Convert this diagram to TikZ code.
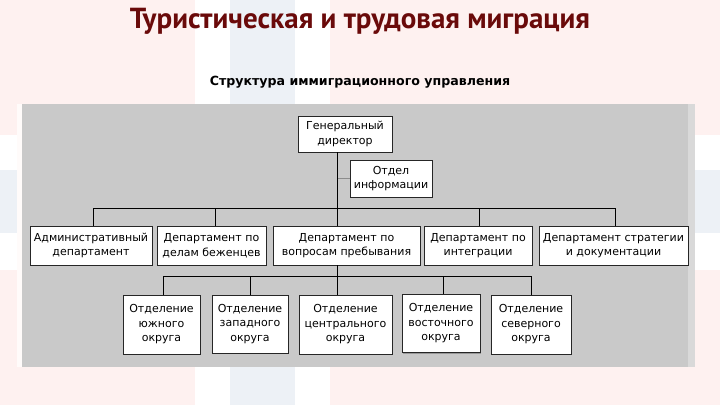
\documentclass[tikz,border=0pt]{standalone}
\usepackage{fontspec}
\usetikzlibrary{shadows}
\setmainfont{DejaVu Sans}
\newfontfamily\titlefont{PT Sans}
\definecolor{bgpink}{HTML}{FEF1F0}
\definecolor{bgblue}{HTML}{EDF1F6}
\definecolor{panel}{HTML}{C9C9C9}
\definecolor{titlered}{HTML}{6A0A0A}
\begin{document}
\begin{tikzpicture}[x=1pt,y=-1pt,
  box/.style={draw=black!85,fill=white,line width=0.8pt,inner sep=0pt,align=center,
    font=\fontsize{11}{14.5}\selectfont,
    drop shadow={shadow xshift=1pt,shadow yshift=-1pt,fill=black!45,opacity=0.8}},
  conn/.style={draw=black,line width=0.9pt},
  faint/.style={draw=black!45,line width=0.9pt}]
\useasboundingbox (0,0) rectangle (720,405);
% background flag
\fill[bgpink] (0,0) rectangle (720,405);
\fill[white] (195,0) rectangle (330,405);
\fill[white] (0,135) rectangle (720,270);
\fill[bgblue] (230,0) rectangle (295,405);
\fill[bgblue] (0,170) rectangle (720,233);
% panel
\fill[white!70!bgpink] (17,104) rectangle (22,367);
\fill[panel] (22,104) rectangle (695,367);
\fill[black!15] (688,104) rectangle (695,367);
% titles
\node[font=\titlefont\bfseries\fontsize{29}{32}\selectfont,text=titlered] (title) at (360,21) {Туристическая и трудовая миграция};
\node[font=\bfseries\fontsize{12.6}{14}\selectfont] (sub) at (360,82) {Структура иммиграционного управления};
% level 1
\node[box,minimum width=94pt,minimum height=36pt] (gd) at (345,134) {Генеральный\\директор};
\node[box,minimum width=82pt,minimum height=37pt] (oi) at (391,178.5) {Отдел\\информации};
% level 2
\node[box,minimum width=122pt,minimum height=39pt] (d1) at (91,245.5) {Административный\\департамент};
\node[box,minimum width=109pt,minimum height=39pt] (d2) at (211.5,245.5) {Департамент по\\делам беженцев};
\node[box,minimum width=147pt,minimum height=39pt] (d3) at (346.5,245.5) {Департамент по\\вопросам пребывания};
\node[box,minimum width=108pt,minimum height=39pt] (d4) at (478,245.5) {Департамент по\\интеграции};
\node[box,minimum width=149pt,minimum height=39pt] (d5) at (613.5,245.5) {Департамент стратегии\\и документации};
% level 3
\node[box,minimum width=77pt,minimum height=59pt] (o1) at (161.5,324.5) {Отделение\\южного\\округа};
\node[box,minimum width=76pt,minimum height=58pt] (o2) at (250,324) {Отделение\\западного\\округа};
\node[box,minimum width=93pt,minimum height=59pt] (o3) at (345.5,324.5) {Отделение\\центрального\\округа};
\node[box,minimum width=78pt,minimum height=58pt] (o4) at (441,323.5) {Отделение\\восточного\\округа};
\node[box,minimum width=80pt,minimum height=59pt] (o5) at (531,324.5) {Отделение\\северного\\округа};
% connector coordinates
\coordinate (v) at (337,208);
\coordinate (w) at (337,276);
\coordinate (a1) at (93,208);
\coordinate (a2) at (215,208);
\coordinate (a4) at (479,208);
\coordinate (a5) at (615,208);
\coordinate (b1) at (163,276);
\coordinate (b2) at (250,276);
\coordinate (b4) at (443,276);
\coordinate (b5) at (531,276);
% connectors
\draw[faint] (v |- oi.west) -- (oi.west);
\draw[conn] (v |- gd.south) -- (v |- d3.north);
\draw[conn] (a1 |- d1.north) -- (a1) -- (a5) -- (a5 |- d5.north);
\draw[conn] (a2) -- (a2 |- d2.north);
\draw[conn] (a4) -- (a4 |- d4.north);
\draw[conn] (w |- d3.south) -- (w |- o3.north);
\draw[conn] (b1 |- o1.north) -- (b1) -- (b5) -- (b5 |- o5.north);
\draw[conn] (b2) -- (b2 |- o2.north);
\draw[conn] (b4) -- (b4 |- o4.north);
\end{tikzpicture}
\end{document}
